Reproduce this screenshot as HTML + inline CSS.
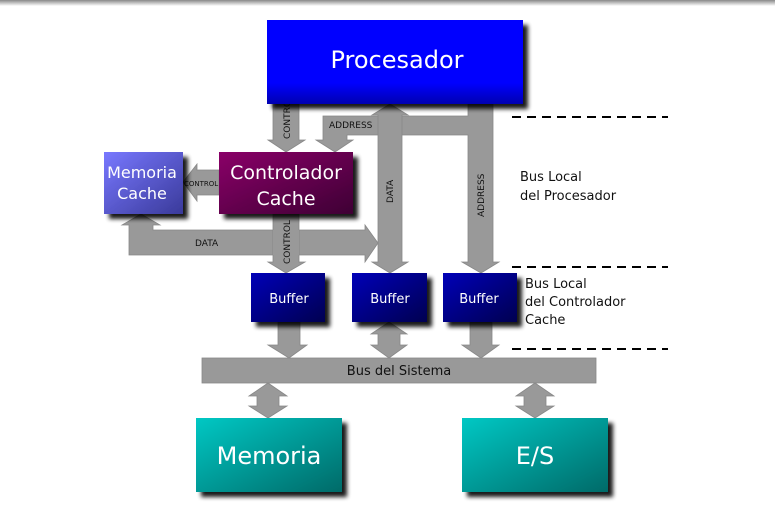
<!DOCTYPE html>
<html><head><meta charset="utf-8"><style>
html,body{margin:0;padding:0;background:#fff;}
svg{display:block;font-family:"DejaVu Sans","Liberation Sans",sans-serif;}
</style></head><body>
<svg width="775" height="510" viewBox="0 0 775 510" xmlns="http://www.w3.org/2000/svg">
<defs>
<linearGradient id="top" x1="0" y1="0" x2="0" y2="1"><stop offset="0" stop-color="#888"/><stop offset="1" stop-color="#fff"/></linearGradient>
<linearGradient id="gp" x1="0" y1="0" x2="0" y2="1"><stop offset="0.75" stop-color="#0000ff"/><stop offset="1" stop-color="#0000b0"/></linearGradient>
<linearGradient id="gc" x1="0" y1="0" x2="1" y2="1"><stop offset="0" stop-color="#8a0068"/><stop offset="1" stop-color="#3e0034"/></linearGradient>
<linearGradient id="gm" x1="0" y1="0" x2="1" y2="1"><stop offset="0" stop-color="#7878ff"/><stop offset="1" stop-color="#3a3a9a"/></linearGradient>
<linearGradient id="gb" x1="0" y1="0" x2="1" y2="1"><stop offset="0" stop-color="#0000b8"/><stop offset="1" stop-color="#000050"/></linearGradient>
<linearGradient id="gt" x1="0" y1="0" x2="1" y2="1"><stop offset="0" stop-color="#00c8c4"/><stop offset="1" stop-color="#006a68"/></linearGradient>
<filter id="sh" x="-10%" y="-10%" width="130%" height="140%"><feGaussianBlur in="SourceAlpha" stdDeviation="2"/><feOffset dx="5" dy="5"/><feComponentTransfer><feFuncA type="linear" slope="0.9"/></feComponentTransfer><feMerge><feMergeNode/><feMergeNode in="SourceGraphic"/></feMerge></filter>
</defs>
<rect x="0" y="0" width="775" height="6" fill="url(#top)"/>
<g fill="#999" stroke="#888" stroke-width="0.8">
<polygon points="273,104 299,104 299,140 305,140 286,152 268,140 273,140"/>
<polygon points="493,104 468,104 468,116 323,116 323,140 316,140 335,152 353,140 347,140 347,135 468,135 468,262 462,262 481,273 499,262 493,262"/>
<polygon points="390,104 408,115 402,115 402,262 408,262 390,273 372,262 378,262 378,115 372,115"/>
<polygon points="219,170 197,170 197,164 183,182 197,201 197,195 219,195"/>
<polygon points="141,214 160,225 153,225 153,230 273,230 273,255 153,255 129,255 129,225 122,225"/>
<polygon points="299,230 365,230 365,225 378,243 365,262 365,255 299,255"/>
<polygon points="273,214 299,214 299,262 305,262 286,273 268,262 273,262"/>
<rect x="273" y="230" width="26" height="25" stroke="none"/>
<polygon points="278,322 300,322 300,345 307,345 289,358 268,345 278,345"/>
<polygon points="389,322 407,334 400,334 400,345 407,345 389,358 371,345 378,345 378,334 371,334"/>
<polygon points="470,322 492,322 492,345 499,345 481,358 462,345 470,345"/>
<rect x="202" y="358" width="394" height="25"/>
<polygon points="268,383 287,396 279,396 279,406 287,406 268,418 249,406 257,406 257,396 249,396"/>
<polygon points="535,383 554,396 546,396 546,406 554,406 535,418 516,406 524,406 524,396 516,396"/>
</g>
<g font-size="9" fill="#111">
<text x="329" y="128">ADDRESS</text>
<text x="195" y="246">DATA</text>
<text x="184" y="186" font-size="7">CONTROL</text>
<text transform="translate(290,139) rotate(-90)">CONTROL</text>
<text transform="translate(290,264) rotate(-90)">CONTROL</text>
<text transform="translate(393,203) rotate(-90)">DATA</text>
<text transform="translate(484,217) rotate(-90)">ADDRESS</text>
</g>
<text x="399" y="375" font-size="13" text-anchor="middle" fill="#111">Bus del Sistema</text>
<g filter="url(#sh)">
<rect x="267" y="20" width="256" height="84" fill="url(#gp)"/>
<rect x="219" y="152" width="134" height="62" fill="url(#gc)"/>
<rect x="104" y="152" width="79" height="62" fill="url(#gm)"/>
<rect x="251" y="273" width="74" height="49" fill="url(#gb)"/>
<rect x="352" y="273" width="75" height="49" fill="url(#gb)"/>
<rect x="443" y="273" width="74" height="49" fill="url(#gb)"/>
<rect x="196" y="418" width="146" height="74" fill="url(#gt)"/>
<rect x="462" y="418" width="146" height="74" fill="url(#gt)"/>
</g>
<g fill="#fff" text-anchor="middle">
<text x="397" y="68" font-size="24">Procesador</text>
<text x="286" y="179" font-size="19">Controlador</text>
<text x="286" y="205" font-size="19">Cache</text>
<text x="142" y="178" font-size="16">Memoria</text>
<text x="142" y="199" font-size="16">Cache</text>
<text x="289" y="303" font-size="13">Buffer</text>
<text x="390" y="303" font-size="13">Buffer</text>
<text x="479" y="303" font-size="13">Buffer</text>
<text x="269" y="464" font-size="24">Memoria</text>
<text x="535" y="464" font-size="24">E/S</text>
</g>
<g stroke="#000" stroke-width="2" stroke-dasharray="9,6">
<line x1="512" y1="117" x2="668" y2="117"/>
<line x1="512" y1="267" x2="668" y2="267"/>
<line x1="512" y1="349" x2="668" y2="349"/>
</g>
<g font-size="13" fill="#111">
<text x="520" y="181">Bus Local</text>
<text x="520" y="200">del Procesador</text>
<text x="525" y="288">Bus Local</text>
<text x="525" y="306">del Controlador</text>
<text x="525" y="324">Cache</text>
</g>
</svg>
</body></html>
